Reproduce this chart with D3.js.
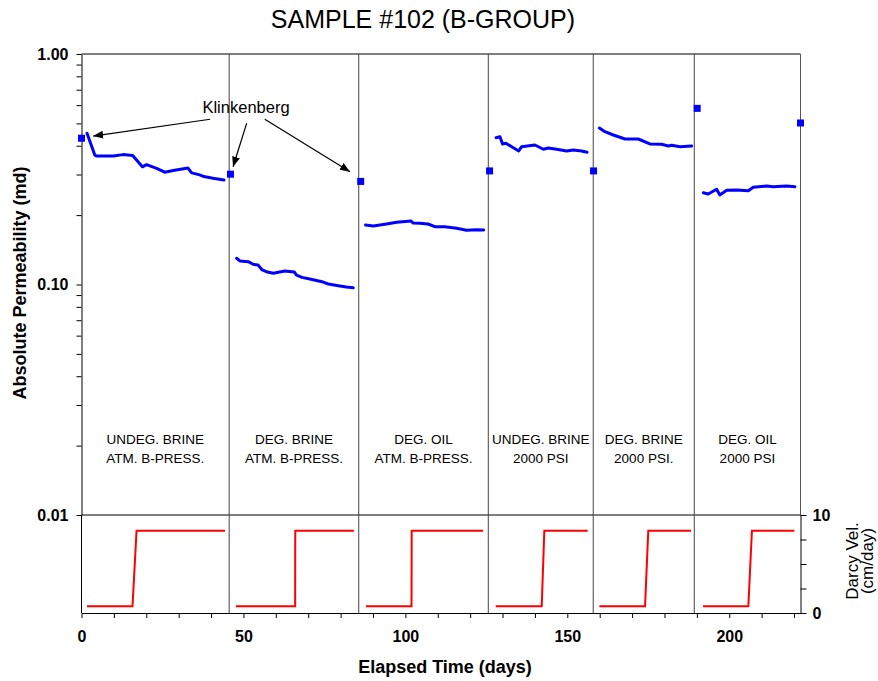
<!DOCTYPE html>
<html>
<head>
<meta charset="utf-8">
<script src="https://cdn.jsdelivr.net/npm/d3@7"></script>
<style>
  body { margin: 0; background: #fff; }
  svg { font-family: "Liberation Sans", Arial, sans-serif; }
  .axis path, .axis line { stroke: #000; }
  .axis text { font-weight: bold; font-size: 16px; fill: #000; }
</style>
</head>
<body>
<svg id="chart" width="878" height="681"></svg>
<script>
// --- data ---
const stageBreaks = [45.6, 85.6, 125.6, 158, 189.2];
const stageLabels = [
  ["UNDEG. BRINE", "ATM. B-PRESS."],
  ["DEG. BRINE", "ATM. B-PRESS."],
  ["DEG. OIL", "ATM. B-PRESS."],
  ["UNDEG. BRINE", "2000 PSI"],
  ["DEG. BRINE", "2000 PSI."],
  ["DEG. OIL", "2000 PSI"]
];

// Klinkenberg permeabilities (squares)
const klinkDays = [0, 46, 86.2, 126, 158.1, 190.1, 222];
const klinkPerm = [0.431, 0.301, 0.280, 0.311, 0.311, 0.581, 0.502];

// measured absolute permeability, one array per stage
const permDays = [
  [1.7, 4.1, 4.6, 9.8, 12.8, 15.8, 18.8, 20.1, 23.2, 25.7, 28.3, 32.9, 34.0, 36.5, 37.8, 40.6, 44.0],
  [47.9, 48.9, 51.5, 53.0, 54.5, 55.8, 57.1, 59.2, 62.8, 65.7, 66.4, 68.1, 70.5, 74.6, 76.2, 79.3, 81.8, 83.9],
  [87.7, 90.1, 94.2, 97.3, 101.7, 102.4, 104.5, 107.0, 109.1, 112.2, 115.8, 118.9, 122.0, 124.2],
  [128.0, 129.2, 130.0, 131.0, 135.0, 135.9, 140.0, 142.6, 144.1, 146.7, 149.8, 151.8, 154.4, 156.1],
  [159.9, 161.6, 164.2, 167.8, 171.9, 175.5, 179.1, 181.2, 182.2, 184.8, 188.4],
  [192.0, 193.5, 196.1, 197.1, 199.2, 202.3, 205.9, 207.4, 211.5, 213.6, 217.7, 220.3]
];
const permValues = [
  [0.453, 0.365, 0.361, 0.361, 0.366, 0.363, 0.324, 0.331, 0.319, 0.307, 0.312, 0.320, 0.305, 0.299, 0.294, 0.289, 0.284],
  [0.130, 0.1265, 0.1256, 0.1224, 0.1215, 0.1156, 0.1136, 0.1118, 0.1144, 0.1133, 0.1099, 0.1074, 0.1056, 0.1025, 0.1005, 0.0988, 0.0975, 0.0968],
  [0.1811, 0.1794, 0.1830, 0.1861, 0.1886, 0.1848, 0.1843, 0.1830, 0.1782, 0.1782, 0.1753, 0.1718, 0.1729, 0.1724],
  [0.4335, 0.4377, 0.4071, 0.4100, 0.3796, 0.3961, 0.4029, 0.3861, 0.3911, 0.3861, 0.3796, 0.3834, 0.3796, 0.3747],
  [0.4775, 0.4602, 0.4452, 0.4278, 0.4278, 0.4071, 0.4059, 0.3991, 0.4018, 0.3961, 0.3991],
  [0.2502, 0.2469, 0.2588, 0.2445, 0.2562, 0.2570, 0.2552, 0.2640, 0.2675, 0.2656, 0.2675, 0.2656]
];

// Darcy velocity step per stage (cm/day)
const darcyDays = [
  [1.7, 15.75, 17.0, 44.3],
  [47.65, 65.97, 66.0, 84.1],
  [87.8, 101.9, 101.95, 124.0],
  [127.9, 142.1, 142.9, 156.3],
  [159.9, 174.0, 175.0, 188.2],
  [191.9, 205.9, 207.0, 220.1]
];
const darcyVel = [0.7, 0.7, 8.4, 8.4];

const permTicks = [0.01, 0.02, 0.03, 0.04, 0.05, 0.06, 0.07, 0.08, 0.09,
                   0.1, 0.2, 0.3, 0.4, 0.5, 0.6, 0.7, 0.8, 0.9, 1];
const permMajor = [0.01, 0.1, 1];
const dayTicks = d3.range(0, 221, 10);
const darcyTicks = [0, 2.5, 5, 7.5, 10];

// annotation: text anchor and arrows [fromDay, fromPerm, toDay, toPerm]
const klinkText = { day: 50.8, perm: 0.555, label: "Klinkenberg" };
const klinkArrows = [
  [39.7, 0.521, 3.6, 0.4406],
  [51.0, 0.5005, 46.8, 0.3244],
  [56.6, 0.521, 82.9, 0.3086]
];

// --- layout ---
const svg = d3.select("#chart");
const pLeft = 81.5, pRight = 800.5, pTop = 54, pMid = 515, pBottom = 613;

const x = d3.scaleLinear().domain([0, 222]).range([pLeft, pRight]);
const y = d3.scaleLog().domain([0.01, 1]).range([pMid, pTop]);
const yD = d3.scaleLinear().domain([0, 10]).range([pBottom, pMid]);

// title
svg.append("text").attr("x", 423).attr("y", 28).attr("text-anchor", "middle")
  .style("font-size", "25px").text("SAMPLE #102 (B-GROUP)");

// frame lines
svg.append("line").attr("x1", pLeft).attr("x2", pRight).attr("y1", pTop).attr("y2", pTop)
  .attr("stroke", "#000");
svg.append("line").attr("x1", pRight).attr("x2", pRight).attr("y1", pTop).attr("y2", pMid)
  .attr("stroke", "#555");
svg.append("line").attr("x1", pLeft).attr("x2", pRight).attr("y1", pMid).attr("y2", pMid)
  .attr("stroke", "#000");
svg.append("line").attr("x1", pLeft).attr("x2", pLeft).attr("y1", pMid).attr("y2", pBottom)
  .attr("stroke", "#000");

// stage separators
svg.append("g").selectAll("line").data(stageBreaks).join("line")
  .attr("x1", d => x(d)).attr("x2", d => x(d))
  .attr("y1", pTop).attr("y2", pBottom)
  .attr("stroke", "#444").attr("stroke-width", 1);

// stage labels
const bounds = [0].concat(stageBreaks, [222]);
svg.append("g").selectAll("text").data(stageLabels).join("text")
  .attr("text-anchor", "middle")
  .style("font-size", "13.5px")
  .attr("transform", (d, i) => `translate(${(x(bounds[i]) + x(bounds[i + 1])) / 2},444)`)
  .each(function(d) {
    d3.select(this).selectAll("tspan").data(d).join("tspan")
      .attr("x", 0).attr("dy", (t, j) => j ? 19 : 0).text(t => t);
  });

// axes
svg.append("g").attr("class", "axis").attr("transform", `translate(${pLeft},0)`)
  .call(d3.axisLeft(y).tickValues(permTicks).tickSize(5).tickSizeOuter(0).tickPadding(8)
    .tickFormat(d => permMajor.includes(d) ? d3.format(".2f")(d) : ""));

svg.append("g").attr("class", "axis").attr("transform", `translate(0,${pBottom})`)
  .call(d3.axisBottom(x).tickValues(dayTicks).tickSize(5).tickSizeOuter(0).tickPadding(13)
    .tickFormat(d => d % 50 === 0 ? d : ""));

svg.append("g").attr("class", "axis").attr("transform", `translate(${pRight},0)`)
  .call(d3.axisRight(yD).tickValues(darcyTicks).tickSize(6).tickSizeOuter(0).tickPadding(6)
    .tickFormat(d => (d === 0 || d === 10) ? d : ""));

// axis titles
svg.append("text").attr("transform", `translate(26,283) rotate(-90)`)
  .attr("text-anchor", "middle").style("font-weight", "bold").style("font-size", "18px")
  .text("Absolute Permeability (md)");
svg.append("text").attr("x", 445).attr("y", 673).attr("text-anchor", "middle")
  .style("font-weight", "bold").style("font-size", "18px").text("Elapsed Time (days)");
svg.append("text").attr("transform", `translate(858,561) rotate(-90)`)
  .attr("text-anchor", "middle").style("font-size", "17px").text("Darcy Vel.");
svg.append("text").attr("transform", `translate(873,561) rotate(-90)`)
  .attr("text-anchor", "middle").style("font-size", "17px").text("(cm/day)");

// permeability lines
const permLine = d3.line().x(d => x(d[0])).y(d => y(d[1]));
svg.append("g").selectAll("path").data(permDays.map((ds, i) => ds.map((d, j) => [d, permValues[i][j]])))
  .join("path").attr("d", permLine)
  .attr("fill", "none").attr("stroke", "#0000ff").attr("stroke-width", 3)
  .attr("stroke-linejoin", "round").attr("stroke-linecap", "round");

// Klinkenberg squares
svg.append("g").selectAll("rect").data(klinkDays).join("rect")
  .attr("x", d => x(d) - 3.5).attr("y", (d, i) => y(klinkPerm[i]) - 3.5)
  .attr("width", 7).attr("height", 7).attr("fill", "#0000ff");

// Darcy velocity steps
const darcyLine = d3.line().x(d => x(d[0])).y(d => yD(d[1]));
svg.append("g").selectAll("path").data(darcyDays.map(ds => ds.map((d, j) => [d, darcyVel[j]])))
  .join("path").attr("d", darcyLine)
  .attr("fill", "none").attr("stroke", "#ff0000").attr("stroke-width", 2);

// annotation
svg.append("defs").append("marker").attr("id", "arrow")
  .attr("viewBox", "0 0 10 10").attr("refX", 10).attr("refY", 5)
  .attr("markerWidth", 10).attr("markerHeight", 10).attr("markerUnits", "userSpaceOnUse")
  .attr("orient", "auto")
  .append("path").attr("d", "M0,1 L10,5 L0,9 Z").attr("fill", "#000");

svg.append("g").selectAll("line").data(klinkArrows).join("line")
  .attr("x1", d => x(d[0])).attr("y1", d => y(d[1]))
  .attr("x2", d => x(d[2])).attr("y2", d => y(d[3]))
  .attr("stroke", "#000").attr("stroke-width", 1.2).attr("marker-end", "url(#arrow)");

svg.append("text").attr("x", x(klinkText.day)).attr("y", y(klinkText.perm))
  .attr("text-anchor", "middle").style("font-size", "16.5px").text(klinkText.label);
</script>
</body>
</html>
